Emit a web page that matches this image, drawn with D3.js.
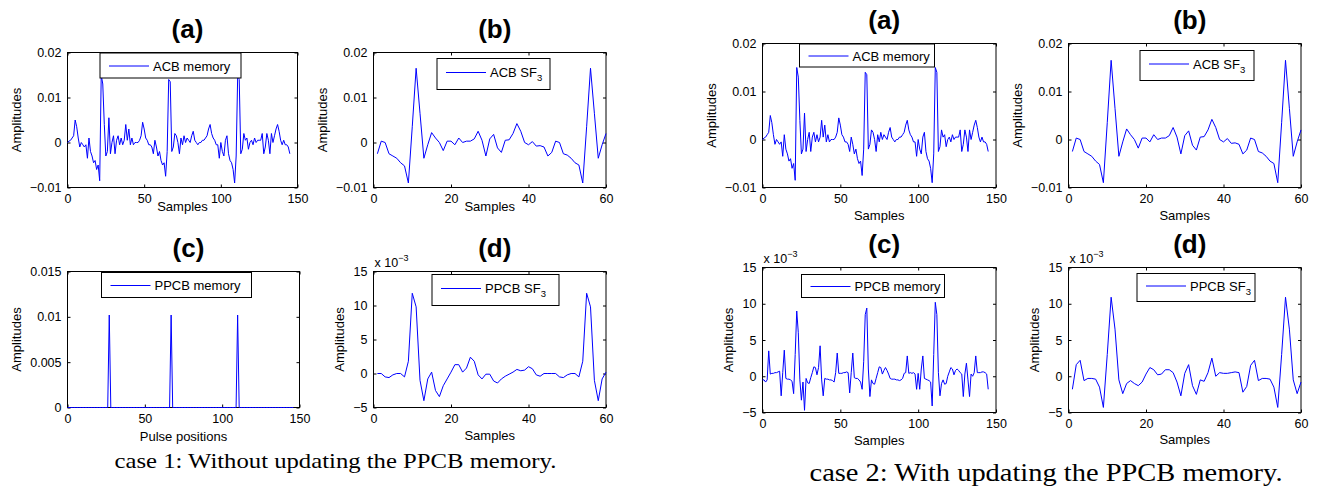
<!DOCTYPE html>
<html>
<head>
<meta charset="utf-8">
<script src="https://cdn.jsdelivr.net/npm/d3@7"></script>
<style>
  body { margin: 0; background: #fff; }
  svg { display: block; }
  svg text { font-family: "Liberation Sans", Arial, Helvetica, sans-serif; fill: #000; }
  svg text.caption { font-family: "Liberation Serif", "Times New Roman", serif; }
</style>
</head>
<body>
<div id="chart"></div>
<script>
const width = 1317
const height = 486

// amplitudes, in units of 1e-3
// ACB memory, samples 0..145 (same in both cases)
const acbMemory = [
  0, 0.3, 0.5, 1, 1.5, 5, 3.5, 1, -1, 0,
  -0.5, -1, -0.5, -3.5, 1, -2, -3, -4.5, -4, -6,
  -5, -8.5, 15, 13, 4, -3, -2, 5.5, -2.5, 0,
  1.5, -2.5, 0.5, 1.5, -0.5, 1, -0.5, 0.5, 4, 0.5,
  3, -0.5, 1, -0.5, 0, 0, 0, 0.5, 1.5, 4.5,
  3, 1, 0.5, -0.5, -0.5, -1, -2.5, 0.5, -1, -3,
  -2, -4, -5, -4.5, -7.5, -2, 14, 13.5, -2, -1,
  2, 1.5, 0, -2.5, 1, -0.5, 1.5, 0, 1, 0.5,
  0, 1.5, 2.5, 0.5, 0, -0.5, 0, 0, 0.5, 0.5,
  1, 1.5, 3, 4, 2, 1, 0.5, -0.5, -0.5, -3.5,
  0, -2, -3, 0.5, 1.5, -2.5, -4, -4.5, -6, -9,
  -3, 15, 14, -2.5, -1.5, 2, 0.5, 1, -1.5, 0,
  0.5, -0.5, 1, 0, 0.5, 0.5, 0.5, 2, -2.5, -1,
  2, 0.5, -2.5, 2, 0, 1.5, 3, 4, 2.5, 0.5,
  -0.5, 0.5, -0.5, -0.5, -1, -2.5
]

// ACB SF3, samples 1..60 (same in both cases)
const acbSf3 = [
  -2.5, 0.3, 0, -2.5, -3, -3.5, -4.5, -5.2, -9, 3.5,
  16.5, 6.5, -3.5, -0.5, 2.2, 1, 0, -1.8, 0.3, 0.3,
  -0.5, 1, 0, 0.3, 0.3, 0.8, 2.5, 0.5, -3, 0.8,
  1.8, -1.2, -2.2, 0.5, 0.6, 2, 4.2, 2.5, 0, -0.5,
  0.2, -0.8, -0.7, -1, -3, -2.2, 0.3, 0, -2.5, -2.8,
  -3.5, -4.5, -5, -9, 3.5, 16.5, 6.5, -3.5, -0.5, 2
]

// case 1 PPCB memory: zero except a few pulses
const ppcbLength = 147
const ppcbPulsePos = [27, 67, 110]
const ppcbPulseAmp = [10.2, 10.2, 10.2]

// case 1 PPCB SF3, samples 1..60
const ppcbSf3Case1 = [
  0, 0, -0.5, -0.6, -0.2, 0, 0, -0.5, 1.8, 11.8,
  9.8, -1, -4, -0.8, 0.2, -2.5, -3.4, -1.8, -0.8, 0.2,
  1.3, 1.3, 0.2, 0.8, 2.4, 1.8, -0.2, -0.8, -0.1, -0.1,
  -1.1, -1.4, -0.8, -0.4, -0.1, 0.2, 0.6, 0.4, 0.5, 1,
  0.7, -0.2, -0.4, 0, 0, 0, 0, -0.5, -0.6, -0.2,
  0, 0, -0.5, 1.8, 11.8, 9.8, -1, -4, -0.8, 0.2
]

// case 2 PPCB memory, samples 0..145
const ppcbMemoryCase2 = [
  -0.5, -0.5, -0.8, -0.5, 3.5, 0.3, 0.4, 0.4, 0.5, 0.5,
  0.6, 0.7, -2.7, 0.5, 3.6, -0.3, -0.4, -0.4, -0.5, -0.7,
  -2.4, 3, 9, 6, -0.5, -3.3, -0.8, -4.7, -0.3, -0.9,
  -1, -0.2, 0.5, 1.3, 1.2, 0.2, 1.2, 4.2, -0.5, -2.7,
  -0.3, -0.4, -0.4, -0.5, -0.5, -0.6, -0.8, 0.5, 3.2, 0.4,
  0.4, 0.4, 0.5, 0.5, 0.6, 0.5, -2.3, 0.5, 3.2, -0.2,
  -0.3, -0.3, -0.5, -0.8, -1.8, 2, 8.5, 9.4, 1, -2.8,
  -0.5, -1, -1.1, -0.3, 0.5, 1.3, 1.2, 0.3, 0.8, 1.2,
  0.8, 0.3, -0.3, -0.4, -0.4, -0.4, -0.5, -0.5, -0.6, -0.5,
  -0.3, 0.4, 0.5, 2.8, 0.4, 0.5, 0.4, 0.5, 0.3, -1.8,
  0.4, -1.8, 1, 2.8, -0.3, -0.4, -0.5, -0.6, -0.8, -4.1,
  3, 10.2, 8.5, 0.5, -2.7, -1, -0.5, -1.1, -1, 0,
  0.6, 1.2, 1, 0.2, 0.8, 1, 0.8, 0.5, 0.3, -2.8,
  0.3, 1.8, -0.5, -2.8, 0.3, 0, 0.5, 2.8, 0.5, 0.5,
  0.5, 0.6, 0.6, 0.5, 0.3, -1.8
]

// case 2 PPCB SF3, samples 1..60
const ppcbSf3Case2 = [
  -1.8, 1.6, 2.2, -0.6, -0.3, -0.3, -0.4, -1.5, -4.3, 3,
  10.9, 6.5, -0.5, -2.4, -1, -0.6, -1, -1.3, -0.8, 0.3,
  1.2, 0.9, 0.2, 0.3, 0.9, 0.9, 0.5, -0.8, -2.7, 0.4,
  1.6, -1.3, -2.5, -0.5, -0.7, 0.5, 2.5, 0, 0.5, 0.4,
  0.4, 0.5, 0.6, 0.5, -2.2, -1.4, 1.5, 2.2, -0.6, -0.3,
  -0.3, -0.4, -1.5, -4.3, 3, 10.9, 6.5, -0.5, -2.4, -0.8
]

// ticks
const ampTicks = [-10, 0, 10, 20]
const pulseTicks = [0, 5, 10, 15]
const milliTicks = [-5, 0, 5, 10, 15]
const longTicks = [0, 50, 100, 150]
const shortTicks = [0, 20, 40, 60]

const captions = ["case 1: Without updating the PPCB memory.", "case 2: With updating the PPCB memory."]

// build the case 1 pulse train
const ppcbMemoryCase1 = new Array(ppcbLength).fill(0)
ppcbPulsePos.forEach(function(p, i) { ppcbMemoryCase1[p] = ppcbPulseAmp[i] })

const milliFmt = d3.format("")
const scaledFmt = function(v) { return v === 0 ? "0" : d3.format("")(v / 1000) }

const panels = [
  {title: "(a)", left: 67.5, top: 52.5, w: 230, h: 135, xDomain: [0, 150], xTicks: longTicks,
   yDomain: [-10, 20], yTicks: ampTicks, yFmt: scaledFmt, values: acbMemory, start: 0,
   xlabel: "Samples", xlabOff: 19, exp: false,
   legend: {x: 32.5, y: 0.5, w: 141, h: 25, text: "ACB memory", sub: null}},
  {title: "(b)", left: 373.5, top: 52.5, w: 232.5, h: 135, xDomain: [0, 60], xTicks: shortTicks,
   yDomain: [-10, 20], yTicks: ampTicks, yFmt: scaledFmt, values: acbSf3, start: 1,
   xlabel: "Samples", xlabOff: 19, exp: false,
   legend: {x: 63.5, y: 6, w: 113, h: 31, text: "ACB SF", sub: "3"}},
  {title: "(c)", left: 67.5, top: 271.5, w: 232, h: 136, xDomain: [0, 150], xTicks: longTicks,
   yDomain: [0, 15], yTicks: pulseTicks, yFmt: scaledFmt, values: ppcbMemoryCase1, start: 0,
   xlabel: "Pulse positions", xlabOff: 28.5, exp: false,
   legend: {x: 34, y: 1, w: 150, h: 25, text: "PPCB memory", sub: null}},
  {title: "(d)", left: 373.5, top: 271.5, w: 232.5, h: 136, xDomain: [0, 60], xTicks: shortTicks,
   yDomain: [-5, 15], yTicks: milliTicks, yFmt: milliFmt, values: ppcbSf3Case1, start: 1,
   xlabel: "Samples", xlabOff: 27.5, exp: true,
   legend: {x: 58.5, y: 3, w: 127, h: 31, text: "PPCB SF", sub: "3"}},
  {title: "(a)", left: 762.5, top: 43.5, w: 233.5, h: 144, xDomain: [0, 150], xTicks: longTicks,
   yDomain: [-10, 20], yTicks: ampTicks, yFmt: scaledFmt, values: acbMemory, start: 0,
   xlabel: "Samples", xlabOff: 28, exp: false,
   legend: {x: 37, y: 0.5, w: 135, h: 23, text: "ACB memory", sub: null}},
  {title: "(b)", left: 1068.5, top: 43.5, w: 232.5, h: 144, xDomain: [0, 60], xTicks: shortTicks,
   yDomain: [-10, 20], yTicks: ampTicks, yFmt: scaledFmt, values: acbSf3, start: 1,
   xlabel: "Samples", xlabOff: 27.5, exp: false,
   legend: {x: 71.5, y: 7, w: 114, h: 30, text: "ACB SF", sub: "3"}},
  {title: "(c)", left: 762.5, top: 267.5, w: 233.5, h: 145, xDomain: [0, 150], xTicks: longTicks,
   yDomain: [-5, 15], yTicks: milliTicks, yFmt: milliFmt, values: ppcbMemoryCase2, start: 0,
   xlabel: "Samples", xlabOff: 27.5, exp: true,
   legend: {x: 39, y: 7, w: 143, h: 23, text: "PPCB memory", sub: null}},
  {title: "(d)", left: 1068.5, top: 267.5, w: 232.5, h: 145, xDomain: [0, 60], xTicks: shortTicks,
   yDomain: [-5, 15], yTicks: milliTicks, yFmt: milliFmt, values: ppcbSf3Case2, start: 1,
   xlabel: "Samples", xlabOff: 27, exp: true,
   legend: {x: 68.5, y: 6, w: 118, h: 28, text: "PPCB SF", sub: "3"}}
]

let svg = d3.select("#chart")
            .append("svg")
            .attr("width", width)
            .attr("height", height)

svg.append("rect").attr("width", width).attr("height", height).attr("fill", "#fff")

panels.forEach(function(p) {
  let g = svg.append("g").attr("transform", "translate(" + p.left + "," + p.top + ")")

  let x = d3.scaleLinear().domain(p.xDomain).range([0, p.w])
  let y = d3.scaleLinear().domain(p.yDomain).range([p.h, 0])

  // axes, ticks pointing inwards on all four sides
  g.append("g")
   .attr("transform", "translate(0," + p.h + ")")
   .call(d3.axisBottom(x).tickValues(p.xTicks).tickSizeInner(-3).tickSizeOuter(0).tickPadding(7).tickFormat(d3.format("d")))
  g.append("g")
   .call(d3.axisTop(x).tickValues(p.xTicks).tickSizeInner(-3).tickSizeOuter(0).tickFormat(""))
  let yAxis = g.append("g")
   .call(d3.axisLeft(y).tickValues(p.yTicks).tickSizeInner(-3).tickSizeOuter(0).tickPadding(6).tickFormat(p.yFmt))
  g.append("g")
   .attr("transform", "translate(" + p.w + ",0)")
   .call(d3.axisRight(y).tickValues(p.yTicks).tickSizeInner(-3).tickSizeOuter(0).tickFormat(""))

  g.selectAll(".domain").remove()
  g.selectAll(".tick line").attr("stroke", "#000")
  g.selectAll(".tick text")
   .attr("font-size", 12.5)
   .attr("fill", "#000")

  g.append("rect")
   .attr("width", p.w)
   .attr("height", p.h)
   .attr("fill", "none")
   .attr("stroke", "#000")
   .attr("stroke-width", 1)

  // data line, drawn over the frame
  g.append("path")
   .datum(p.values)
   .attr("fill", "none")
   .attr("stroke", "#0000ff")
   .attr("stroke-width", 1)
   .attr("stroke-linejoin", "round")
   .attr("d", d3.line().x(function(d, i) { return x(i + p.start) }).y(function(d) { return y(d) }))

  // y label, left of the widest tick label
  let bb = yAxis.node().getBBox()
  g.append("text")
   .attr("transform", "translate(" + (bb.x - 9) + "," + (p.h / 2) + ") rotate(-90)")
   .attr("text-anchor", "middle")
   .attr("font-size", 13)
   .text("Amplitudes")

  // x label
  g.append("text")
   .attr("x", p.w / 2)
   .attr("y", p.h + p.xlabOff + 4.5)
   .attr("text-anchor", "middle")
   .attr("font-size", 13)
   .text(p.xlabel)

  // title
  g.append("text")
   .attr("x", p.w / 2 + 5)
   .attr("y", -15)
   .attr("text-anchor", "middle")
   .attr("font-size", 26)
   .attr("font-weight", "bold")
   .text(p.title)

  // exponent
  if (p.exp) {
    let t = g.append("text").attr("x", 1).attr("y", -5).attr("font-size", 12.5)
    t.append("tspan").text("x 10")
    t.append("tspan").attr("dy", -6).attr("font-size", 9).text("\u22123")
  }

  // legend
  let L = p.legend
  let lg = g.append("g").attr("transform", "translate(" + L.x + "," + L.y + ")")
  lg.append("rect")
    .attr("width", L.w)
    .attr("height", L.h)
    .attr("fill", "#fff")
    .attr("stroke", "#000")
    .attr("stroke-width", 1)
  let cy = L.sub ? L.h / 2 - 1.5 : L.h / 2 + 0.5
  lg.append("line")
    .attr("x1", 9).attr("x2", 49)
    .attr("y1", cy).attr("y2", cy)
    .attr("stroke", "#0000ff")
    .attr("stroke-width", 1)
  let lt = lg.append("text")
    .attr("x", 53)
    .attr("y", cy + 4.7)
    .attr("font-size", 13)
  lt.append("tspan").text(L.text)
  if (L.sub) lt.append("tspan").attr("dy", 4).attr("font-size", 9.5).text(L.sub)
})

// captions
svg.append("text")
   .attr("class", "caption")
   .attr("x", 114.5)
   .attr("y", 468)
   .attr("font-size", 22)
   .attr("textLength", 442)
   .attr("lengthAdjust", "spacingAndGlyphs")
   .text(captions[0])

svg.append("text")
   .attr("class", "caption")
   .attr("x", 809.5)
   .attr("y", 480.5)
   .attr("font-size", 26)
   .attr("textLength", 473)
   .attr("lengthAdjust", "spacingAndGlyphs")
   .text(captions[1])
</script>
</body>
</html>
